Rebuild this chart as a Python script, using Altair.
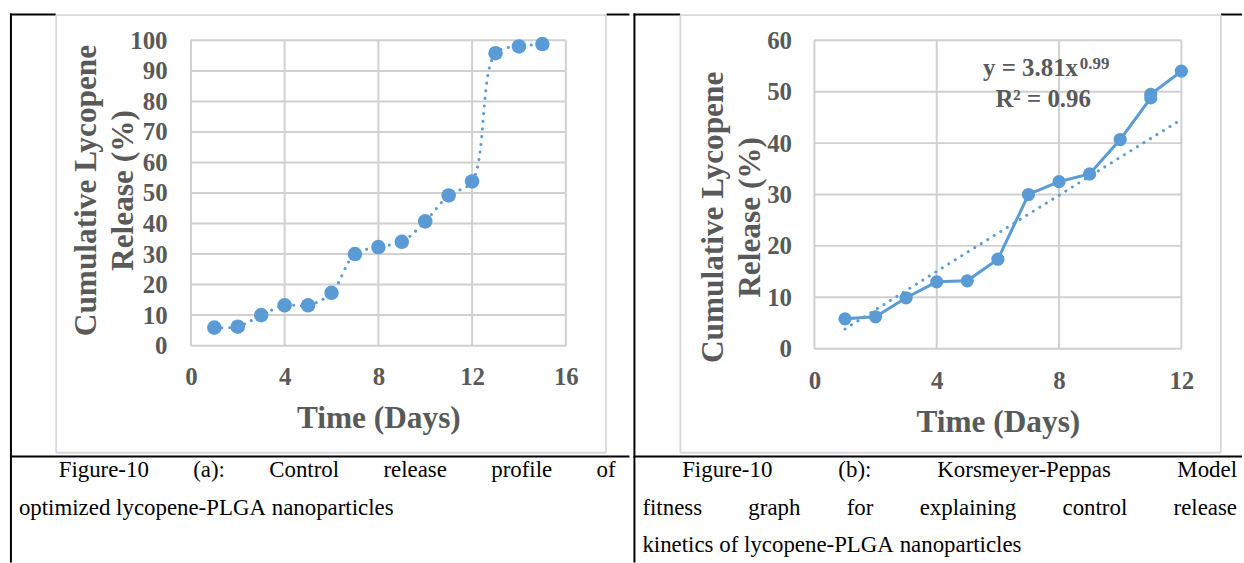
import altair as alt
import pandas as pd

# ---- data -------------------------------------------------------------
# (a) cumulative lycopene release, days 1-15
days_a = [1, 2, 3, 4, 5, 6, 7, 8, 9, 10, 11, 12, 13, 14, 15]
release_a = [5.9, 6.2, 10.0, 13.2, 13.2, 17.3, 30.0, 32.3, 34.0, 40.7, 49.2, 53.8, 95.8, 98.0, 98.8]

# (b) Korsmeyer-Peppas panel, days 1-12 (two readings on day 11)
days_b = [1, 2, 3, 4, 5, 6, 7, 8, 9, 10, 11, 11, 12]
release_b = [5.8, 6.2, 9.9, 13.0, 13.2, 17.4, 30.0, 32.5, 34.0, 40.7, 48.8, 49.5, 54.0]

# power-law fit y = k * x^n
KP_K = 3.81
KP_N = 0.99
KP_R2 = 0.96

ticks_x_a = [0, 4, 8, 12, 16]
ticks_y_a = [0, 10, 20, 30, 40, 50, 60, 70, 80, 90, 100]
ticks_x_b = [0, 4, 8, 12]
ticks_y_b = [0, 10, 20, 30, 40, 50, 60]

Y_TITLE = ["Cumulative Lycopene", "Release (%)"]
X_TITLE = "Time (Days)"
CAPTION_A = ["Figure-10 (a): Control release profile of",
             "optimized lycopene-PLGA nanoparticles"]
CAPTION_B = ["Figure-10 (b): Korsmeyer-Peppas Model",
             "fitness graph for explaining control release",
             "kinetics of lycopene-PLGA nanoparticles"]

# ---- style / page geometry ---------------------------------------------
BLUE = "#5b9bd5"
GRID = "#d0d0d0"
FRAME = "#d9d9d9"
INK = "#595959"
SERIF = "Liberation Serif"
PAGE_W, PAGE_H, SPLIT = 1244, 563, 632
CAPTION_SIZE = 23
CAPTION_BASE = [477, 515, 553]

# Times advance widths (1/1000 em), used to justify caption lines
TIMES_W = {
    " ": 250, "(": 333, ")": 333, "-": 333, ":": 278, "0": 500, "1": 500,
    "a": 444, "b": 500, "c": 444, "d": 500, "e": 444, "f": 333, "g": 500,
    "h": 500, "i": 278, "k": 500, "l": 278, "m": 778, "n": 500, "o": 500,
    "p": 500, "r": 333, "s": 389, "t": 278, "u": 500, "x": 500, "y": 500,
    "z": 444, "F": 556, "C": 667, "P": 556, "L": 611, "G": 722, "A": 722,
    "K": 722, "M": 889,
}

ONE = pd.DataFrame({"k": [0]})


def text_width(s, size):
    return sum(TIMES_W.get(c, 500) for c in s) * size / 1000


def caption_words(lines, left, right, indent, ox, oy):
    rows = []
    for i, line in enumerate(lines):
        words = line.split(" ")
        start = left + (indent if i == 0 else 0)
        widths = [text_width(w, CAPTION_SIZE) for w in words]
        if i == len(lines) - 1:
            gap = text_width(" ", CAPTION_SIZE)
        else:
            gap = (right - start - sum(widths)) / (len(words) - 1)
        x = start
        for w, wd in zip(words, widths):
            rows.append({"word": w, "px": x - ox, "py": CAPTION_BASE[i] - oy})
            x += wd + gap
    return pd.DataFrame(rows)


def caption_layer(df):
    return alt.Chart(df).mark_text(
        font=SERIF, fontSize=CAPTION_SIZE, color="black", align="left", baseline="alphabetic"
    ).encode(
        x=alt.X("px:Q", scale=None, axis=None),
        y=alt.Y("py:Q", scale=None, axis=None),
        text="word:N",
    )


def rule(ox, oy, x1, y1, x2, y2, color="black", width=2.0):
    return alt.Chart(ONE).mark_rule(color=color, strokeWidth=width).encode(
        x=alt.value(x1 - ox), x2=alt.value(x2 - ox),
        y=alt.value(y1 - oy), y2=alt.value(y2 - oy),
    )


def frame(ox, oy, x1, y1, x2, y2):
    """Chart-area border drawn as four thin rules."""
    return [
        rule(ox, oy, x1, y1, x2, y1, FRAME, 1.8),
        rule(ox, oy, x1, y2, x2, y2, FRAME, 1.8),
        rule(ox, oy, x1, y1, x1, y2, FRAME, 1.8),
        rule(ox, oy, x2, y1, x2, y2, FRAME, 1.8),
    ]


def page_bounds(ox, oy, x1, x2):
    return alt.Chart(ONE).mark_rect(opacity=0).encode(
        x=alt.value(x1 - ox), x2=alt.value(x2 - ox),
        y=alt.value(-oy), y2=alt.value(PAGE_H - oy),
    )


def x_axis(values, pad, title_y, w):
    return alt.Axis(
        values=values, title=X_TITLE, grid=False, domain=False, ticks=False, tickSize=0,
        labelFont=SERIF, labelFontWeight="bold", labelFontSize=25, labelColor=INK,
        labelPadding=pad, labelBaseline="middle", labelFlush=False, labelOverlap=False,
        titleFont=SERIF, titleFontWeight="bold", titleFontSize=31.5, titleColor=INK,
        titleX=w / 2, titleY=title_y, titleAlign="center", titleBaseline="middle",
    )


def y_axis(values, pad, title_x, title_y):
    return alt.Axis(
        values=values, title=Y_TITLE, grid=False, domain=False, ticks=False, tickSize=0,
        labelFont=SERIF, labelFontWeight="bold", labelFontSize=25, labelColor=INK,
        labelPadding=pad, labelFlush=False, labelOverlap=False,
        titleFont=SERIF, titleFontWeight="bold", titleFontSize=31.5, titleColor=INK,
        titleX=title_x, titleY=title_y, titleAngle=270, titleAlign="center",
        titleBaseline="middle", titleLineHeight=37,
    )


def grid_layers(x_enc, y_enc, x_field, y_field, x_ticks, y_ticks, w, h):
    """Gridlines at the tick values, placed through the panel's own scales."""
    horiz = alt.Chart(pd.DataFrame({y_field: y_ticks})).mark_rule(
        color=GRID, strokeWidth=2).encode(y=y_enc, x=alt.value(0), x2=alt.value(w))
    vert = alt.Chart(pd.DataFrame({x_field: x_ticks})).mark_rule(
        color=GRID, strokeWidth=2).encode(x=x_enc, y=alt.value(0), y2=alt.value(h))
    return [horiz, vert]


DOTS = dict(strokeDash=[0.1, 7.6], strokeCap="round", strokeWidth=3)

# ---- panel (a) ---------------------------------------------------------
AX, AY, AW, AH = 191, 38, 377, 307
df_a = pd.DataFrame({"day": days_a, "release": release_a})

xa = alt.X("day:Q", scale=alt.Scale(domain=[0, 16], nice=False, zero=False),
           axis=x_axis(ticks_x_a, 31, 73, AW))
ya = alt.Y("release:Q", scale=alt.Scale(domain=[0, 100], nice=False),
           axis=y_axis(ticks_y_a, 24, 86 - AX, 188.5 - AY))

line_a = alt.Chart(df_a).mark_line(color=BLUE, interpolate="catmull-rom", **DOTS).encode(x=xa, y=ya)
pts_a = alt.Chart(df_a).mark_circle(color=BLUE, size=214, opacity=1).encode(x=xa, y=ya)

panel_a = alt.layer(
    page_bounds(AX, AY, 0, SPLIT),
    rule(AX, AY, 9, 12, 55, 12),
    rule(AX, AY, 609, 12, SPLIT, 12),
    rule(AX, AY, 10, 11, 10, PAGE_H),
    rule(AX, AY, 9, 456.5, SPLIT, 456.5),
    *frame(AX, AY, 55.5, 12.7, 608.3, 452.7),
    caption_layer(caption_words(CAPTION_A, 18, 618, 40, AX, AY)),
    *grid_layers(xa, ya, "day", "release", ticks_x_a, ticks_y_a, AW, AH),
    line_a,
    pts_a,
).properties(width=AW, height=AH)

# ---- panel (b) ---------------------------------------------------------
BX, BY, BW, BH = 814, 38, 369, 310
df_b = pd.DataFrame({"obs": list(range(len(days_b))), "day": days_b, "release": release_b})

xb = alt.X("day:Q", scale=alt.Scale(domain=[0, 12], nice=False, zero=False),
           axis=x_axis(ticks_x_b, 32, 74, BW))
yb = alt.Y("release:Q", scale=alt.Scale(domain=[0, 60], nice=False),
           axis=y_axis(ticks_y_b, 23, 713 - BX, 215.5 - BY))

line_b = alt.Chart(df_b).mark_line(color=BLUE, strokeWidth=3).encode(x=xb, y=yb, order="obs:Q")
fit_b = alt.Chart(df_b).transform_calculate(
    release=f"{KP_K} * pow(datum.day, {KP_N})"
).mark_line(color=BLUE, **DOTS).encode(x=xb, y=yb, order="obs:Q")
pts_b = alt.Chart(df_b).mark_circle(color=BLUE, size=177, opacity=1).encode(x=xb, y=yb)

eq_main = alt.Chart(pd.DataFrame({"day": [8.62], "release": [53.0], "t": [f"y = {KP_K}x"]})).mark_text(
    font=SERIF, fontWeight="bold", fontSize=25, color=INK, align="right", baseline="alphabetic"
).encode(x=xb, y=yb, text="t:N")
eq_pow = alt.Chart(pd.DataFrame({"day": [8.68], "release": [54.4], "t": [f"{KP_N}"]})).mark_text(
    font=SERIF, fontWeight="bold", fontSize=17, color=INK, align="left", baseline="alphabetic"
).encode(x=xb, y=yb, text="t:N")
eq_r2 = alt.Chart(pd.DataFrame({"day": [7.48], "release": [47.0], "t": [f"R² = {KP_R2}"]})).mark_text(
    font=SERIF, fontWeight="bold", fontSize=25, color=INK, align="center", baseline="alphabetic"
).encode(x=xb, y=yb, text="t:N")

panel_b = alt.layer(
    page_bounds(BX, BY, SPLIT, PAGE_W),
    rule(BX, BY, SPLIT, 12, 679, 12),
    rule(BX, BY, 1223, 12, PAGE_W, 12),
    rule(BX, BY, 633, 11, 633, PAGE_H),
    rule(BX, BY, SPLIT, 456.5, PAGE_W, 456.5),
    *frame(BX, BY, 679.2, 12.7, 1222.7, 452.7),
    caption_layer(caption_words(CAPTION_B, 641, 1239, 40, BX, BY)),
    *grid_layers(xb, yb, "day", "release", ticks_x_b, ticks_y_b, BW, BH),
    fit_b,
    line_b,
    pts_b,
    eq_main,
    eq_pow,
    eq_r2,
).properties(width=BW, height=BH)

chart = alt.hconcat(panel_a, panel_b, spacing=0).properties(
    padding=0, background="white"
).configure_view(stroke="transparent")

chart.save("out.html", embed_options={"renderer": "svg", "actions": False})
